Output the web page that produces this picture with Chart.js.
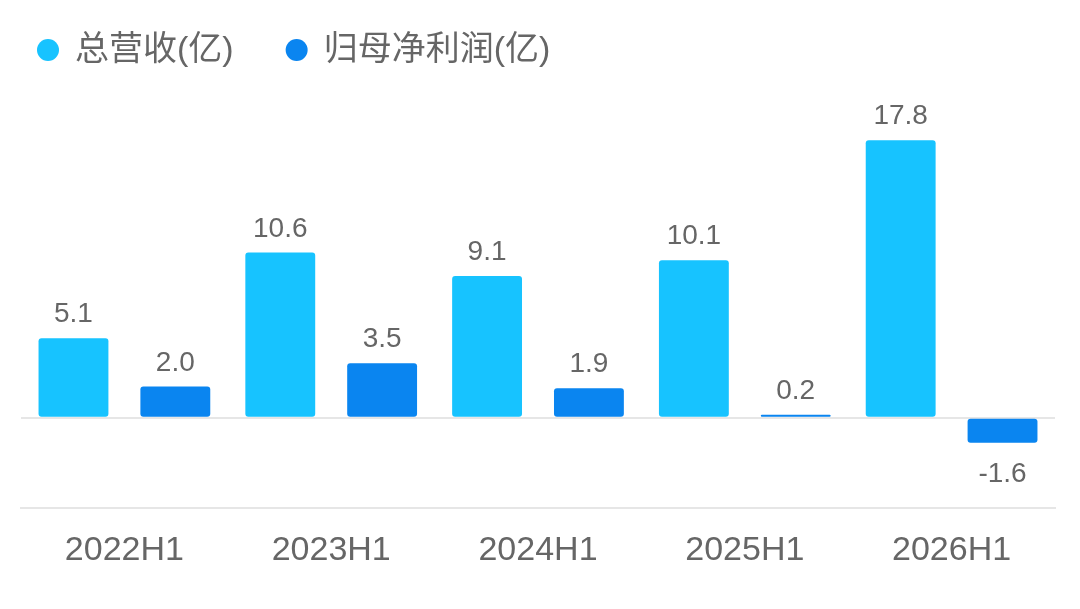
<!DOCTYPE html>
<html lang="zh">
<head>
<meta charset="UTF-8">
<title>总营收与归母净利润</title>
<script src="https://cdn.jsdelivr.net/npm/chart.js"></script>
<style>
  html, body { margin: 0; padding: 0; background: #fff; }
  #wrap { width: 1080px; height: 609px; }
</style>
</head>
<body>
<div id="wrap"><canvas id="chart"></canvas></div>
<script>
const categories = ['2022H1', '2023H1', '2024H1', '2025H1', '2026H1'];
const revenue = [5.1, 10.6, 9.1, 10.1, 17.8];
const netProfit = [2.0, 3.5, 1.9, 0.2, -1.6];
const seriesNames = ['总营收(亿)', '归母净利润(亿)'];

const FONT = '"Liberation Sans", "Noto Sans CJK SC", sans-serif';

// legend drawn by hand: dot + text, left aligned at the top
const topLegend = {
  id: 'topLegend',
  afterDraw(chart) {
    const ctx = chart.ctx;
    ctx.save();
    ctx.font = '34px ' + FONT;
    ctx.textBaseline = 'middle';
    ctx.textAlign = 'left';
    let x = 48;
    const y = 50;
    chart.data.datasets.forEach(ds => {
      ctx.fillStyle = ds.backgroundColor;
      ctx.beginPath();
      ctx.arc(x, y, 11, 0, Math.PI * 2);
      ctx.fill();
      ctx.fillStyle = '#666';
      ctx.fillText(ds.label, x + 27, y + 1);
      x += 27 + ctx.measureText(ds.label).width + 63;
    });
    ctx.restore();
  }
};

// value labels above (or below, for negatives) each bar
const valueLabels = {
  id: 'valueLabels',
  afterDatasetsDraw(chart) {
    const ctx = chart.ctx;
    ctx.save();
    ctx.font = '28px ' + FONT;
    ctx.fillStyle = '#666';
    ctx.textAlign = 'center';
    ctx.textBaseline = 'alphabetic';
    chart.data.datasets.forEach((ds, i) => {
      chart.getDatasetMeta(i).data.forEach((bar, j) => {
        const v = ds.data[j];
        if (v < 0) {
          ctx.fillText(v.toFixed(1), bar.x, bar.y + 39);
        } else {
          ctx.fillText(v.toFixed(1), bar.x, bar.y - 16);
        }
      });
    });
    ctx.restore();
  }
};

new Chart(document.getElementById('chart'), {
  type: 'bar',
  data: {
    labels: categories,
    datasets: [
      { label: seriesNames[0], data: revenue, backgroundColor: '#17c3ff', borderRadius: 3, borderSkipped: false },
      { label: seriesNames[1], data: netProfit, backgroundColor: '#0a85f0', borderRadius: 3, borderSkipped: false }
    ]
  },
  options: {
    responsive: true,
    maintainAspectRatio: false,
    animation: false,
    categoryPercentage: 0.985,
    barPercentage: 0.686,
    layout: { padding: { left: 21, right: 25, top: 106, bottom: 24 } },
    plugins: {
      tooltip: { enabled: false },
      legend: { display: false }
    },
    scales: {
      x: {
        grid: { display: false },
        border: { display: true, color: '#e6e6e6', width: 2 },
        ticks: { color: '#666', padding: 14, font: { size: 34, family: FONT } }
      },
      y: {
        min: -5.8,
        max: 20,
        ticks: { display: false, stepSize: 5 },
        border: { display: false },
        grid: {
          drawTicks: false,
          lineWidth: 2,
          color: c => (c.tick && c.tick.value === 0 ? '#e6e6e6' : 'rgba(0,0,0,0)')
        }
      }
    }
  },
  plugins: [valueLabels, topLegend]
});
</script>
</body>
</html>
